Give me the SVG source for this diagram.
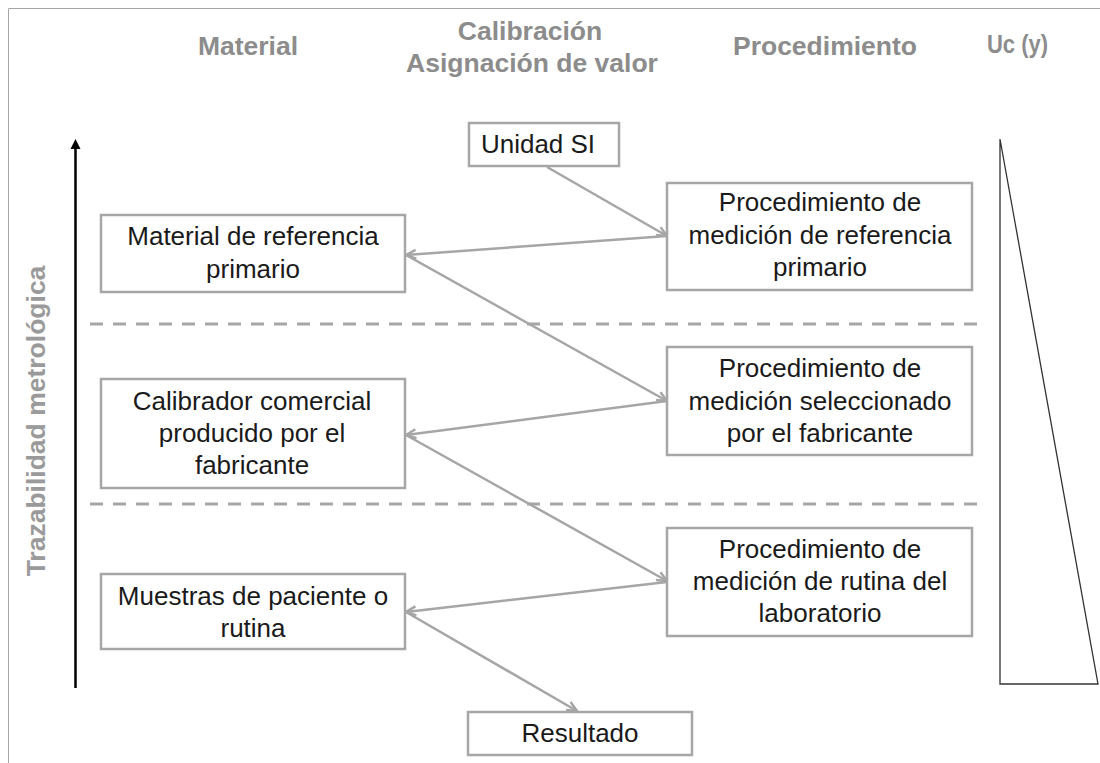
<svg xmlns="http://www.w3.org/2000/svg" width="1100" height="763" viewBox="0 0 1100 763">
<style>
.hdr{font-family:"Liberation Sans",Arial,sans-serif;font-weight:bold;font-size:26.5px;fill:#8c8c8c;text-anchor:middle}
.box{fill:#ffffff;stroke:#a6a6a6;stroke-width:2.5}
.lbl{font-family:"Liberation Sans",Arial,sans-serif;font-size:26px;fill:#1a1a1a;text-anchor:middle}
.con{stroke:#a6a6a6;stroke-width:2.5;fill:none;marker-end:url(#ah)}
.dash{stroke:#a6a6a6;stroke-width:3;stroke-dasharray:13 10;fill:none}
</style>
<defs>
<marker id="ah" markerUnits="userSpaceOnUse" markerWidth="14" markerHeight="14" refX="11" refY="6" orient="auto">
<path d="M1,1.5 L11,6 L1,10.5" fill="none" stroke="#a6a6a6" stroke-width="2.5"/>
</marker>
</defs>
<rect width="1100" height="763" fill="#ffffff"/>
<path d="M8.5,763 L8.5,8.5 L1100,8.5" fill="none" stroke="#a6a6a6" stroke-width="1"/>
<g id="headers">
<text class="hdr" x="248" y="55">Material</text>
<text class="hdr" x="530" y="40">Calibración</text>
<text class="hdr" x="532" y="72">Asignación de valor</text>
<text class="hdr" x="825" y="55">Procedimiento</text>
<text class="hdr" x="1017.5" y="53" style="font-size:25px" textLength="61" lengthAdjust="spacingAndGlyphs">Uc (y)</text>
<text class="hdr" x="0" y="0" transform="translate(45,421) rotate(-90)" style="fill:#9a9a9a">Trazabilidad metrológica</text>
</g>
<g id="separators">
<line class="dash" x1="90" y1="324" x2="982" y2="324"/>
<line class="dash" x1="90" y1="504" x2="982" y2="504"/>
</g>
<g id="trace-arrow">
<line x1="75.5" y1="688" x2="75.5" y2="147" stroke="#000000" stroke-width="2.5"/>
<path d="M75.5,139 L70.5,149 L80.5,149 Z" fill="#000000"/>
</g>
<g id="uncertainty-triangle">
<path d="M1000,139 L1000,684 L1098,684 Z" fill="none" stroke="#333333" stroke-width="1.3"/>
</g>
<g id="connectors">
<path class="con" d="M547,167 L667,236"/>
<path class="con" d="M667,236 L406,255"/>
<path class="con" d="M406,255 L667,401"/>
<path class="con" d="M667,401 L406,435"/>
<path class="con" d="M406,435 L667,581"/>
<path class="con" d="M667,582 L406,612"/>
<path class="con" d="M406,612 L577,711"/>
</g>
<g id="unidad-si">
<rect class="box" x="469" y="123" width="150" height="43"/>
<text class="lbl" x="538" y="153">Unidad SI</text>
</g>
<g id="material-ref">
<rect class="box" x="101" y="215" width="304" height="77"/>
<text class="lbl" x="253" y="245">Material de referencia</text>
<text class="lbl" x="253" y="278">primario</text>
</g>
<g id="proc-ref">
<rect class="box" x="667" y="183" width="305" height="107"/>
<text class="lbl" x="820" y="211">Procedimiento de</text>
<text class="lbl" x="820" y="244">medición de referencia</text>
<text class="lbl" x="820" y="276">primario</text>
</g>
<g id="calibrador">
<rect class="box" x="101" y="379" width="304" height="109"/>
<text class="lbl" x="252" y="410">Calibrador comercial</text>
<text class="lbl" x="252" y="442">producido por el</text>
<text class="lbl" x="252" y="474">fabricante</text>
</g>
<g id="proc-sel">
<rect class="box" x="667" y="347" width="305" height="108"/>
<text class="lbl" x="820" y="377">Procedimiento de</text>
<text class="lbl" x="820" y="410">medición seleccionado</text>
<text class="lbl" x="820" y="442">por el fabricante</text>
</g>
<g id="proc-rutina">
<rect class="box" x="667" y="528" width="305" height="108"/>
<text class="lbl" x="820" y="558">Procedimiento de</text>
<text class="lbl" x="820" y="590">medición de rutina del</text>
<text class="lbl" x="820" y="622">laboratorio</text>
</g>
<g id="muestras">
<rect class="box" x="101" y="574" width="304" height="75"/>
<text class="lbl" x="253" y="605">Muestras de paciente o</text>
<text class="lbl" x="253" y="637">rutina</text>
</g>
<g id="resultado">
<rect class="box" x="468" y="712" width="224" height="43"/>
<text class="lbl" x="580" y="742">Resultado</text>
</g>
</svg>
